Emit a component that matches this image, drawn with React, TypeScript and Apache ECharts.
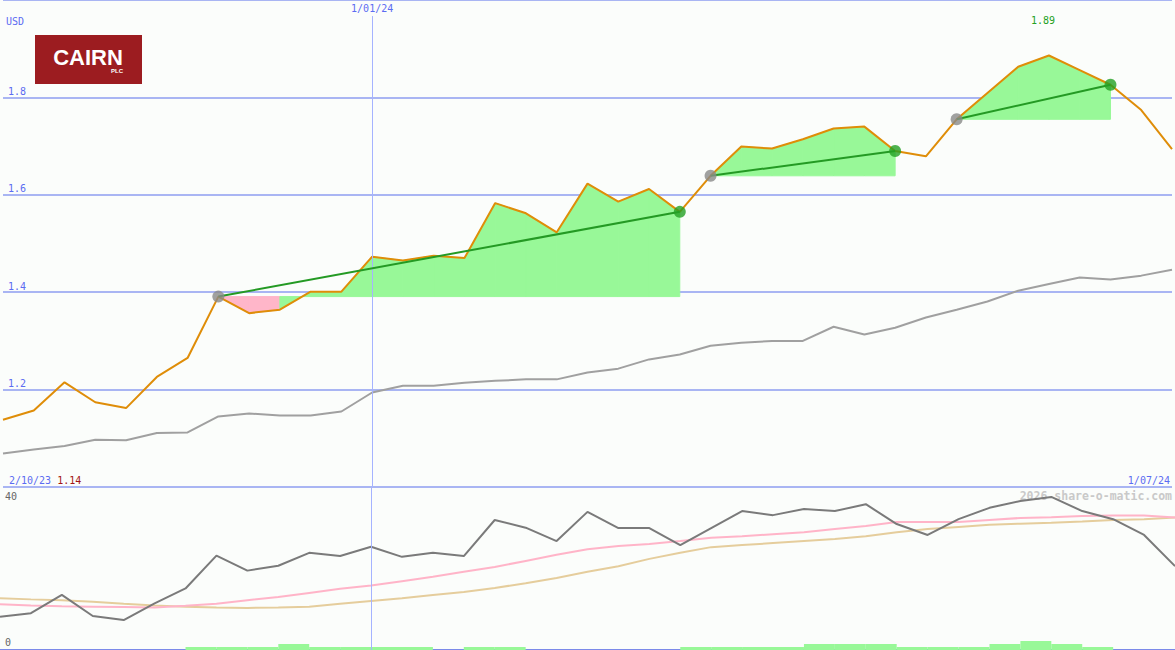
import React, { useEffect, useRef } from "react";
import * as echarts from "echarts";

// ---- data ----
const currency = "USD";
const startDateLabel = "2/10/23";
const midDateLabel = "1/01/24";
const endDateLabel = "1/07/24";
const midDateIndex = 12;
const watermark = "2026 share-o-matic.com";

// weekly share price (USD), index 0..38
const price = [
  1.138, 1.157, 1.215, 1.174, 1.162, 1.226, 1.265, 1.391, 1.357, 1.364,
  1.401, 1.401, 1.473, 1.465, 1.475, 1.47, 1.583, 1.562, 1.523, 1.623,
  1.586, 1.612, 1.565, 1.639, 1.699, 1.695, 1.714, 1.736, 1.74, 1.69,
  1.679, 1.755, 1.809, 1.863, 1.886, 1.856, 1.826, 1.774, 1.694,
];
// moving average of price (grey)
const priceAvg = [
  1.069, 1.077, 1.084, 1.097, 1.096, 1.111, 1.112, 1.145, 1.151, 1.147,
  1.147, 1.155, 1.194, 1.208, 1.208, 1.214, 1.218, 1.221, 1.221, 1.235,
  1.243, 1.262, 1.272, 1.29, 1.296, 1.3, 1.3, 1.329, 1.313, 1.327,
  1.348, 1.364, 1.381, 1.403, 1.417, 1.43, 1.426, 1.434, 1.446,
];
// lower panel indicator (dark grey)
const indicator = [
  8.2, 9.1, 13.6, 8.4, 7.4, 11.5, 15.2, 23.3, 19.6, 20.8,
  24.0, 23.2, 25.5, 23.0, 24.0, 23.2, 32.1, 30.2, 26.9, 34.1,
  30.1, 30.1, 25.9, 30.1, 34.3, 33.3, 34.8, 34.3, 36.0, 31.1,
  28.4, 32.3, 35.1, 36.8, 37.8, 34.3, 32.3, 28.4, 20.7,
];
// fast average of indicator (pink)
const indicatorFast = [
  11.3, 11.0, 10.8, 10.7, 10.6, 10.5, 10.9, 11.4, 12.3, 13.1,
  14.1, 15.1, 15.9, 17.0, 18.1, 19.3, 20.5, 22.0, 23.5, 24.9,
  25.7, 26.2, 26.9, 27.7, 28.1, 28.6, 29.1, 29.9, 30.6, 31.6,
  31.6, 31.6, 32.1, 32.6, 32.8, 33.1, 33.2, 33.2, 32.7,
];
// slow average of indicator (tan)
const indicatorSlow = [
  12.8, 12.5, 12.3, 11.9, 11.4, 11.0, 10.7, 10.5, 10.4, 10.5,
  10.7, 11.4, 12.1, 12.8, 13.6, 14.3, 15.3, 16.5, 17.8, 19.3,
  20.7, 22.5, 24.0, 25.4, 25.9, 26.4, 26.9, 27.4, 28.1, 29.1,
  29.9, 30.4, 30.9, 31.2, 31.4, 31.7, 32.1, 32.3, 32.7,
];
// weekly bars (interval i .. i+1), 38 values
const weeklyBars = [
  0, 0, 0, 0, 0, 0, 1, 1, 1, 2,
  1, 1, 1, 1, 0, 1, 1, 0, 0, 0,
  0, 0, 1, 1, 1, 1, 2, 2, 2, 1,
  1, 1, 2, 3, 2, 1, 0, 0,
];
// trend segments [startIndex, endIndex]
const trendStarts = [7, 23, 31];
const trendEnds = [22, 29, 36];

// ---- styles ----
const BG = "#fbfdfb";
const GRID = "#a9b5f3";
const BLUE_TXT = "#5b6cf2";
const FILL_UP = "#98f898";
const FILL_DOWN = "#ffb6c9";
const TREND = "#249a24";
const VLINE = "#a5b3ff";
const MONO = "'DejaVu Sans Mono', monospace";

export default function App() {
  const ref = useRef<HTMLDivElement>(null);

  useEffect(() => {
    if (!ref.current) return;
    const chart = echarts.init(ref.current, null, { renderer: "svg" });

    const fillData: number[][] = [];
    trendStarts.forEach((s, k) => {
      const e = trendEnds[k];
      for (let i = s; i < e; i++) fillData.push([i, price[i], price[i + 1], price[s]]);
    });
    const barData = weeklyBars
      .map((v, i) => [i, v])
      .filter((d) => d[1] > 0);

    const trendSeries = trendStarts.map((s, k) => ({
      type: "line",
      xAxisIndex: 0,
      yAxisIndex: 0,
      data: [
        [s, price[s]],
        [trendEnds[k], price[trendEnds[k]]],
      ],
      symbol: "none",
      lineStyle: { color: TREND, width: 2 },
      z: 5,
      silent: true,
    }));

    const option: any = {
      animation: false,
      backgroundColor: BG,
      grid: [
        { left: 0, right: 0, top: 0, height: 487, containLabel: false },
        { left: 0, right: 0, top: 488, bottom: 0, containLabel: false },
      ],
      xAxis: [
        {
          type: "value",
          gridIndex: 0,
          min: 0,
          max: price.length - 1,
          interval: 1,
          position: "bottom",
          axisLine: { show: false },
          axisTick: { show: false },
          splitLine: { show: false },
          axisLabel: {
            inside: true,
            margin: 2,
            alignMinLabel: "left",
            alignMaxLabel: "right",
            fontFamily: MONO,
            fontSize: 10,
            color: BLUE_TXT,
            formatter: (v: number) => {
              if (v === 0) return `{d|${startDateLabel}} {p|${price[0].toFixed(2)}}`;
              if (v === price.length - 1) return `{e|${endDateLabel}}`;
              return "";
            },
            rich: {
              d: { fontFamily: MONO, fontSize: 10, color: BLUE_TXT, padding: [0, 0, 0, 6] },
              e: { fontFamily: MONO, fontSize: 10, color: BLUE_TXT, padding: [0, 2, 0, 0] },
              p: { fontFamily: MONO, fontSize: 10, color: "#a31414" },
            },
          },
        },
        {
          type: "value",
          gridIndex: 0,
          min: 0,
          max: price.length - 1,
          interval: 1,
          position: "top",
          axisLine: { show: false },
          axisTick: { show: false },
          splitLine: { show: false },
          axisLabel: {
            inside: true,
            margin: 3,
            fontFamily: MONO,
            fontSize: 10,
            color: BLUE_TXT,
            formatter: (v: number) => (v === midDateIndex ? midDateLabel : ""),
          },
        },
        {
          type: "value",
          gridIndex: 1,
          min: 0,
          max: price.length - 1,
          position: "top",
          axisLine: { show: true, lineStyle: { color: "#7b8ae9", width: 3 } },
          axisTick: { show: false },
          axisLabel: { show: false },
          splitLine: { show: false },
        },
      ],
      yAxis: [
        {
          type: "value",
          gridIndex: 0,
          min: 1.0,
          max: 2.0,
          interval: 0.2,
          axisLine: { show: false },
          axisTick: { show: false },
          splitLine: { show: true, lineStyle: { color: GRID, width: 2 } },
          axisLabel: {
            inside: true,
            margin: 5,
            verticalAlign: "bottom",
            padding: [0, 0, 1, 0],
            fontFamily: MONO,
            fontSize: 10,
            color: BLUE_TXT,
            formatter: (v: number) => (v > 1.01 && v < 1.99 ? v.toFixed(1) : ""),
          },
        },
        {
          type: "value",
          gridIndex: 1,
          min: 0,
          max: 40,
          interval: 40,
          axisLine: { show: false },
          axisTick: { show: false },
          splitLine: { show: false },
          axisLabel: {
            inside: true,
            margin: 5,
            verticalAlignMinLabel: "bottom",
            verticalAlignMaxLabel: "top",
            padding: [3, 0, 3, 0],
            fontFamily: MONO,
            fontSize: 10,
            color: "#666",
          },
        },
        {
          type: "value",
          gridIndex: 1,
          min: 0,
          max: 54,
          show: false,
        },
      ],
      graphic: [
        {
          type: "text",
          left: 6,
          top: 16,
          style: { text: currency, fontFamily: MONO, fontSize: 10, fill: BLUE_TXT },
        },
        {
          type: "group",
          left: 35,
          top: 35,
          children: [
            { type: "rect", shape: { x: 0, y: 0, width: 107, height: 49 }, style: { fill: "#9c1c20" } },
            {
              type: "text",
              x: 53,
              y: 22,
              style: {
                text: "CAIRN",
                fill: "#fff",
                fontFamily: "'Liberation Sans', Arial, sans-serif",
                fontWeight: "bold",
                fontSize: 22,
                align: "center",
                verticalAlign: "middle",
              },
            },
            {
              type: "text",
              x: 82,
              y: 36,
              style: {
                text: "PLC",
                fill: "#fff",
                fontFamily: "'Liberation Sans', Arial, sans-serif",
                fontWeight: "bold",
                fontSize: 6,
                align: "center",
                verticalAlign: "middle",
              },
            },
          ],
        },
        {
          type: "text",
          right: 3,
          top: 490,
          style: {
            text: watermark,
            fontFamily: MONO,
            fontWeight: "bold",
            fontSize: 11.5,
            fill: "#c9c9c9",
          },
          z: 0,
        },
      ],
      series: [
        {
          type: "custom",
          xAxisIndex: 0,
          yAxisIndex: 0,
          data: fillData,
          encode: { x: 0, y: [1, 2, 3] },
          silent: true,
          z: 1,
          renderItem: (params: any, api: any) => {
            const i = api.value(0);
            const p0 = api.value(1);
            const p1 = api.value(2);
            const b = api.value(3);
            const col = p1 >= b ? FILL_UP : FILL_DOWN;
            return {
              type: "polygon",
              shape: {
                points: [api.coord([i, b]), api.coord([i, p0]), api.coord([i + 1, p1]), api.coord([i + 1, b])],
              },
              style: { fill: col, stroke: col, lineWidth: 1 },
            };
          },
        },
        {
          type: "line",
          xAxisIndex: 0,
          yAxisIndex: 0,
          data: priceAvg.map((v, i) => [i, v]),
          symbol: "none",
          lineStyle: { color: "#a0a0a0", width: 2 },
          z: 2,
          silent: true,
        },
        {
          type: "line",
          xAxisIndex: 0,
          yAxisIndex: 0,
          data: price.map((v, i) => [i, v]),
          symbol: "none",
          lineStyle: { color: "#df8d08", width: 2 },
          z: 4,
          silent: true,
          markLine: {
            silent: true,
            symbol: "none",
            label: { show: false },
            lineStyle: { color: VLINE, width: 1, type: "solid" },
            data: [[{ coord: [midDateIndex, 1.0] }, { coord: [midDateIndex, 1.967] }]],
          },
          markPoint: {
            symbol: "circle",
            symbolSize: 0,
            data: [{ type: "max", valueDim: "y" }],
            label: {
              show: true,
              position: "top",
              offset: [-6, -25],
              fontFamily: MONO,
              fontSize: 10,
              color: "#22a022",
              formatter: (p: any) => Number(p.data.coord ? p.data.coord[1] : p.value).toFixed(2),
            },
          },
        },
        ...trendSeries,
        {
          type: "scatter",
          xAxisIndex: 0,
          yAxisIndex: 0,
          data: trendStarts.map((s) => [s, price[s]]),
          symbolSize: 12,
          itemStyle: { color: "#8a8a8a" },
          z: 6,
          silent: true,
        },
        {
          type: "scatter",
          xAxisIndex: 0,
          yAxisIndex: 0,
          data: trendEnds.map((e) => [e, price[e]]),
          symbolSize: 12,
          itemStyle: { color: "#24a024" },
          z: 6,
          silent: true,
        },
        // lower panel
        {
          type: "custom",
          xAxisIndex: 2,
          yAxisIndex: 2,
          data: barData,
          encode: { x: 0, y: 1 },
          silent: true,
          z: 1,
          renderItem: (params: any, api: any) => {
            const i = api.value(0);
            const h = api.value(1);
            const p = api.coord([i, h]);
            const q = api.coord([i + 1, 0]);
            return {
              type: "rect",
              shape: { x: p[0], y: p[1], width: q[0] - p[0], height: q[1] - p[1] },
              style: { fill: FILL_UP },
            };
          },
        },
        {
          type: "line",
          xAxisIndex: 2,
          yAxisIndex: 1,
          data: indicatorSlow.map((v, i) => [i, v]),
          symbol: "none",
          lineStyle: { color: "#e5cd9c", width: 2 },
          z: 2,
          silent: true,
        },
        {
          type: "line",
          xAxisIndex: 2,
          yAxisIndex: 1,
          data: indicatorFast.map((v, i) => [i, v]),
          symbol: "none",
          lineStyle: { color: "#ffb4c8", width: 2 },
          z: 3,
          silent: true,
        },
        {
          type: "line",
          xAxisIndex: 2,
          yAxisIndex: 1,
          data: indicator.map((v, i) => [i, v]),
          symbol: "none",
          lineStyle: { color: "#7a7a7a", width: 2 },
          z: 4,
          silent: true,
          markLine: {
            silent: true,
            symbol: "none",
            label: { show: false },
            lineStyle: { color: VLINE, width: 1, type: "solid" },
            data: [{ xAxis: midDateIndex, lineStyle: { color: VLINE, width: 1, type: "solid" } }],
          },
        },
      ],
    };

    chart.setOption(option);
    return () => chart.dispose();
  }, []);

  return (
    <div
      ref={ref}
      style={{ position: "fixed", left: 0, top: 0, width: 1175, height: 650, background: BG }}
    />
  );
}
